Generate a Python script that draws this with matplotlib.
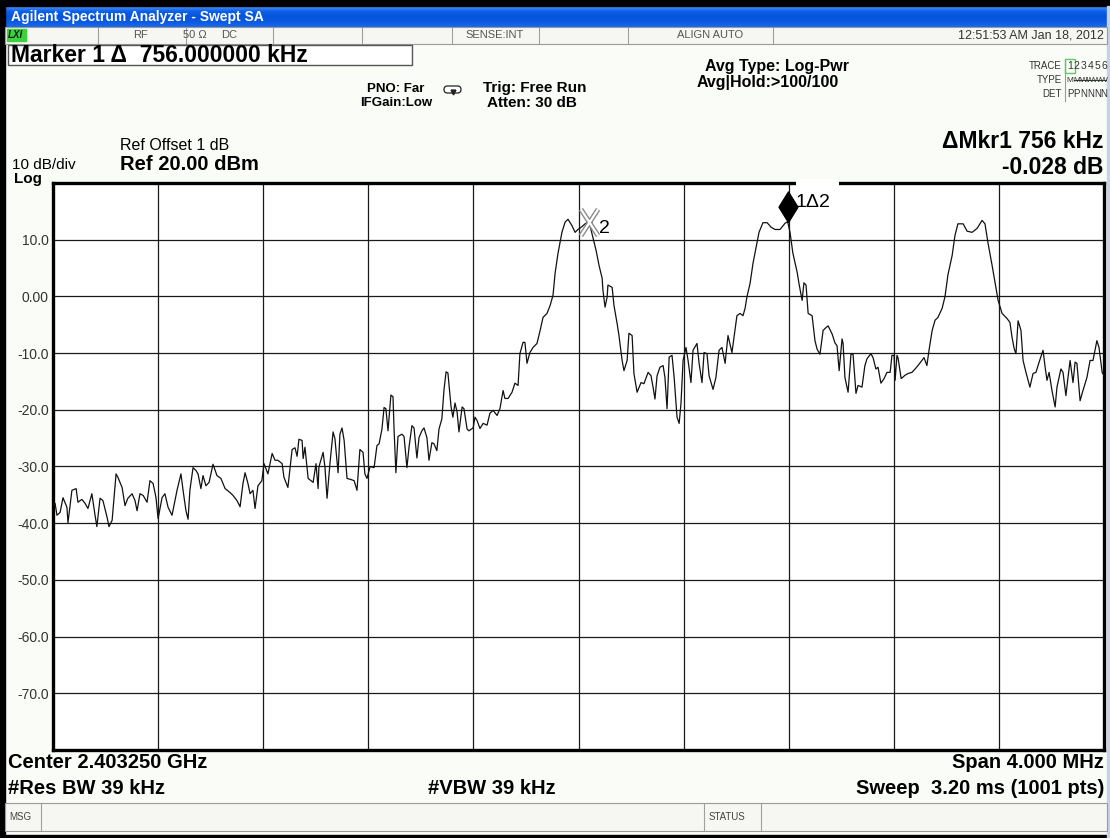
import numpy as np
import matplotlib.pyplot as plt
from matplotlib.path import Path
from matplotlib.patches import Rectangle, FancyBboxPatch
from matplotlib.colors import LinearSegmentedColormap

# sweep settings
center_ghz = 2.403250
span_mhz = 4.0
ref_level = 20.0
db_per_div = 10
y_labels = ['10.0', '0.00', '-10.0', '-20.0', '-30.0', '-40.0', '-50.0', '-60.0', '-70.0']

# trace 1: (offset from center in kHz, level in dBm)
trace = [
    (-2000, -37.0), (-1992, -36.5), (-1985, -38.6), (-1973, -38.1), (-1962, -35.5), (-1947, -37.2),
    (-1943, -39.9), (-1928, -34.2), (-1912, -33.9), (-1905, -36.3), (-1890, -35.8), (-1878, -36.5),
    (-1867, -37.4), (-1852, -34.8), (-1840, -38.6), (-1833, -40.6), (-1821, -35.6), (-1810, -36.0),
    (-1794, -39.0), (-1787, -40.6), (-1775, -39.5), (-1760, -31.3), (-1753, -31.9), (-1737, -33.7),
    (-1726, -36.9), (-1715, -35.6), (-1699, -34.8), (-1688, -36.0), (-1680, -37.8), (-1669, -34.8),
    (-1657, -35.1), (-1642, -36.3), (-1631, -32.5), (-1619, -33.0), (-1608, -35.5), (-1600, -39.2),
    (-1585, -35.5), (-1574, -34.8), (-1562, -37.2), (-1547, -38.6), (-1528, -34.2), (-1513, -31.3),
    (-1505, -34.2), (-1494, -37.8), (-1486, -39.3), (-1479, -34.2), (-1467, -30.2), (-1456, -30.7),
    (-1448, -31.3), (-1437, -33.9), (-1429, -31.6), (-1418, -33.4), (-1406, -32.8), (-1391, -29.6),
    (-1376, -31.6), (-1361, -32.1), (-1345, -33.9), (-1326, -34.6), (-1315, -35.1), (-1300, -36.0),
    (-1288, -37.1), (-1277, -33.0), (-1269, -31.1), (-1258, -33.0), (-1250, -34.8), (-1239, -34.2),
    (-1231, -37.4), (-1220, -33.4), (-1205, -32.5), (-1197, -29.5), (-1182, -31.3),
    (-1166, -27.7), (-1155, -28.9), (-1144, -28.9), (-1128, -29.5), (-1121, -31.9), (-1106, -33.7),
    (-1090, -27.0), (-1079, -26.7), (-1071, -28.2), (-1064, -25.2), (-1052, -25.4), (-1048, -28.6),
    (-1041, -26.6), (-1029, -32.1), (-1010, -32.8), (-999, -29.5), (-991, -33.9), (-988, -30.1),
    (-972, -27.5), (-965, -30.1), (-957, -35.6), (-946, -29.5), (-934, -23.9), (-927, -25.1),
    (-915, -31.1), (-908, -24.3), (-900, -23.2), (-892, -25.4), (-881, -32.1), (-866, -32.3),
    (-854, -32.5), (-843, -34.2), (-832, -27.0), (-820, -27.5), (-813, -31.3), (-805, -32.1),
    (-793, -30.0), (-778, -30.2), (-767, -26.3), (-759, -26.0), (-748, -23.4), (-740, -19.6),
    (-733, -19.8), (-725, -23.7), (-714, -17.4), (-706, -17.7), (-702, -23.4), (-695, -31.1),
    (-687, -24.7), (-672, -24.3), (-664, -24.7), (-653, -30.2), (-645, -26.6), (-634, -22.8),
    (-626, -23.2), (-615, -28.5), (-607, -24.9), (-596, -23.7), (-588, -23.2), (-577, -24.9),
    (-569, -28.9), (-558, -25.8), (-550, -26.0), (-539, -27.2), (-531, -23.4), (-520, -21.6),
    (-512, -16.5), (-504, -13.3), (-497, -13.5), (-485, -19.5), (-478, -21.3), (-470, -18.8),
    (-462, -20.4), (-455, -23.9), (-443, -19.5), (-436, -19.8), (-424, -23.4), (-417, -23.7),
    (-401, -23.2), (-394, -21.3), (-386, -21.9),
    (-375, -23.3), (-363, -22.4), (-348, -22.7), (-337, -20.6), (-325, -20.1), (-310, -21.0),
    (-299, -19.8), (-287, -16.6), (-280, -18.0), (-268, -18.0), (-253, -16.9), (-242, -15.3),
    (-230, -15.7), (-223, -10.1), (-211, -8.1), (-204, -8.1), (-196, -11.8), (-185, -9.9),
    (-173, -9.0), (-158, -8.3), (-146, -6.0), (-135, -3.7), (-120, -3.0), (-108, -1.6),
    (-97, 0.2), (-89, 4.1), (-78, 7.6), (-63, 11.3), (-51, 13.1), (-40, 13.6),
    (-25, 12.5), (-13, 11.3), (-2, 11.8), (13, 12.3), (25, 12.8), (40, 13.2),
    (55, 10.4), (67, 8.1), (78, 5.5), (90, 3.2), (93, 1.1), (101, -1.9),
    (109, -0.1), (112, 2.0), (128, 1.6), (135, -1.6), (147, -4.8), (154, -6.9),
    (166, -11.3), (173, -13.1), (185, -11.3), (192, -6.5), (204, -6.9), (211, -13.6),
    (223, -16.9), (238, -15.2), (249, -15.4), (265, -13.4), (276, -14.0), (284, -16.1),
    (291, -18.1), (299, -14.0), (310, -12.5), (322, -12.2), (329, -14.3), (337, -19.8),
    (345, -10.7), (356, -10.4), (364, -14.3), (375, -21.3), (383, -22.4), (390, -18.9),
    (398, -11.3), (409, -9.0), (417, -11.3), (428, -15.2), (436, -9.5), (451, -8.3),
    (459, -11.8), (470, -15.2), (478, -9.9), (489, -10.1), (497, -14.0), (512, -16.4),
    (523, -14.3), (535, -9.5), (546, -9.0), (558, -11.8), (569, -6.9), (584, -9.9),
    (592, -7.2), (603, -3.4), (615, -3.0), (626, -3.4), (634, -2.1), (641, -0.1),
    (653, 2.3), (664, 5.8), (679, 9.4), (687, 11.3), (702, 13.0), (718, 13.0),
    (733, 12.2), (748, 11.8), (767, 11.8), (786, 12.9), (796, 13.17), (805, 11.3),
    (816, 7.6), (832, 4.3), (839, 2.3), (851, -0.7), (858, 2.4), (866, 2.0),
    (874, -3.0), (889, -3.4), (900, -7.8), (908, -9.3), (919, -10.2), (931, -6.0),
    (942, -5.5), (950, -5.2), (965, -6.6), (976, -8.2), (984, -8.7), (992, -13.1),
    (1003, -7.5), (1007, -8.3), (1014, -14.3), (1026, -16.9), (1037, -10.2), (1045, -10.2),
    (1056, -17.1), (1064, -15.7), (1079, -16.0), (1090, -12.2), (1098, -11.0), (1113, -10.1),
    (1121, -10.8), (1132, -12.8), (1140, -12.5), (1151, -15.3), (1163, -14.5), (1174, -13.4),
    (1186, -13.4), (1193, -10.4), (1201, -10.4), (1205, -14.8), (1212, -10.4), (1216, -10.8),
    (1228, -14.5), (1243, -13.9), (1254, -13.6), (1269, -13.4), (1281, -12.8), (1292, -12.2),
    (1307, -11.3), (1315, -10.8), (1326, -12.2), (1334, -9.5), (1346, -6.0), (1357, -4.2),
    (1368, -3.7), (1384, -2.1), (1395, 0.0), (1406, 3.8), (1422, 7.2), (1433, 10.8),
    (1444, 12.8), (1464, 12.8), (1479, 11.5), (1498, 11.3), (1517, 12.0), (1536, 13.4),
    (1547, 12.8), (1559, 9.3), (1574, 5.5), (1585, 2.5), (1597, -0.7), (1612, -3.0),
    (1631, -3.9), (1642, -4.6), (1650, -7.2), (1658, -9.2), (1665, -10.1), (1673, -4.3),
    (1684, -6.0), (1692, -11.3), (1703, -13.4), (1718, -16.0), (1730, -13.6), (1741, -13.4),
    (1753, -11.6), (1768, -9.5), (1776, -12.5), (1783, -14.8), (1791, -13.4), (1802, -16.6),
    (1814, -19.5), (1821, -16.0), (1836, -12.8), (1844, -13.4), (1855, -17.5), (1863, -14.3),
    (1871, -11.3), (1882, -15.2), (1890, -11.6), (1897, -11.8), (1909, -18.4), (1920, -16.6),
    (1935, -14.3), (1947, -11.3), (1958, -11.3), (1973, -7.8), (1981, -9.0), (1993, -13.4),
    (2000, -14.0),
]
offset_khz, level_dbm = map(np.array, zip(*trace))

# markers: 2 is the reference, 1 is a delta marker
mkr2_khz = 40
mkr1_delta_khz = 756
mkr1_delta_db = -0.028

mkr2_level = np.interp(mkr2_khz, offset_khz, level_dbm)
mkr1_khz = mkr2_khz + mkr1_delta_khz
mkr1_level = mkr2_level + mkr1_delta_db

FONT = 'Liberation Sans'
W, H = 1110, 838

fig = plt.figure(figsize=(W / 100, H / 100), dpi=100)
fig.patch.set_facecolor('#fafcf8')

# screen overlay in pixel units
scr = fig.add_axes([0, 0, 1, 1], zorder=0)
scr.axis('off')


def txt(x, y, s, size=10, weight='normal', ha='left', color='black', **kw):
    scr.text(x, y, s, fontsize=size, fontweight=weight, ha=ha, va='center',
             color=color, family=FONT, **kw)


# window frame and title bar
bar = LinearSegmentedColormap.from_list('bar', ['#4a94f8', '#0d5fe8', '#0653dc', '#0a59e2', '#1a68ea'])
scr.imshow(np.linspace(0, 1, 40).reshape(-1, 1), cmap=bar, extent=[5, 1107, 27, 6], aspect='auto')
scr.add_patch(Rectangle((0, 0), W, 6, color='black'))
scr.add_patch(Rectangle((0, 0), 5, H, color='black'))
scr.add_patch(Rectangle((0, 835), W, 3, color='black'))
scr.add_patch(Rectangle((1107, 6), 3, H, color='#c4d3ea'))
txt(11, 17, 'Agilent Spectrum Analyzer - Swept SA', size=10, weight='bold', color='white')

# status row
scr.add_patch(Rectangle((5, 27), 1102, 17, facecolor='#f6f6f2', edgecolor='#9a9a9a', lw=0.8))
for xs in [98, 186, 273, 362, 452, 539, 628, 773]:
    scr.plot([xs, xs], [28, 43], color='#a0a0a0', lw=0.8)
scr.add_patch(Rectangle((7, 29), 19, 12, color='#3cd23c'))
txt(8, 35.5, 'LXI', size=7, weight='bold', style='italic', color='#102010')
txt(141, 35.5, 'RF', size=8, ha='center', color='#555555')
txt(195, 35.5, '50 Ω', size=8, ha='center', color='#555555')
txt(229, 35.5, 'DC', size=8, ha='center', color='#555555')
txt(495, 35.5, 'SENSE:INT', size=8, ha='center', color='#555555')
txt(710, 35.5, 'ALIGN AUTO', size=8, ha='center', color='#555555')
txt(1104, 35.5, '12:51:53 AM Jan 18, 2012', size=9, ha='right', color='#333333')

# marker readout box
scr.add_patch(Rectangle((8, 45), 404, 20, facecolor='white', edgecolor='#555555', lw=1))
txt(11, 55.5, 'Marker 1 Δ  756.000000 kHz', size=16.5, weight='bold')

txt(396, 89, 'PNO: Far', size=9.5, weight='bold', ha='center')
txt(396, 103, 'IFGain:Low', size=9.5, weight='bold', ha='center')
scr.add_patch(FancyBboxPatch((444, 86), 17, 7, boxstyle='round,pad=0,rounding_size=3.5',
                             facecolor='white', edgecolor='#222222', lw=0.9))
scr.plot([452.5], [92], marker='v', ms=3.5, color='#222222')
txt(483, 88, 'Trig: Free Run', size=11, weight='bold')
txt(487, 103, 'Atten: 30 dB', size=11, weight='bold')
txt(705, 67, 'Avg Type: Log-Pwr', size=11.5, weight='bold')
txt(697, 83, 'Avg|Hold:>100/100', size=11.5, weight='bold')

# trace status block
txt(1062, 66, 'TRACE', size=7, ha='right', color='#333333')
txt(1062, 80, 'TYPE', size=7, ha='right', color='#333333')
txt(1062, 94, 'DET', size=7, ha='right', color='#333333')
scr.plot([1064.5, 1064.5], [59, 101], color='#999999', lw=0.8)
scr.add_patch(Rectangle((1065, 59.5), 10, 14, facecolor='none', edgecolor='#5fd05f', lw=1))
for i, (t, m, d) in enumerate(zip('123456', 'MMWWWW', 'PPNNNN')):
    xc = 1070 + i * 6.8
    txt(xc, 66, t, size=7.5, ha='center', color='#333333')
    txt(xc, 80, m, size=6, ha='center', color='#333333')
    txt(xc, 94, d, size=7, ha='center', color='#333333')
scr.plot([1074, 1106], [80, 80], color='#333333', lw=0.7)

# reference readouts
txt(120, 146, 'Ref Offset 1 dB', size=11.5)
txt(120, 165, 'Ref 20.00 dBm', size=14.5, weight='bold')
txt(12, 165, '10 dB/div', size=11)
txt(14, 179, 'Log', size=11, weight='bold')
txt(1103, 142, 'ΔMkr1 756 kHz', size=16.5, weight='bold', ha='right')
txt(1103, 167, '-0.028 dB', size=16.5, weight='bold', ha='right')

# bottom annotation lines
txt(8, 762, 'Center 2.403250 GHz', size=14.5, weight='bold')
txt(1104, 762, 'Span 4.000 MHz', size=14.5, weight='bold', ha='right')
txt(8, 788, '#Res BW 39 kHz', size=14.5, weight='bold')
txt(428, 788, '#VBW 39 kHz', size=14.5, weight='bold')
txt(1104, 788, 'Sweep  3.20 ms (1001 pts)', size=14.5, weight='bold', ha='right')

scr.add_patch(Rectangle((5, 803), 1102, 28, facecolor='#f6f6f2', edgecolor='#9a9a9a', lw=0.8))
for xs in [41, 704, 761]:
    scr.plot([xs, xs], [804, 830], color='#a0a0a0', lw=0.8)
txt(9, 817, 'MSG', size=7, color='#444444')
txt(709, 817, 'STATUS', size=7, color='#444444')

scr.set_xlim(0, W)
scr.set_ylim(H, 0)

# graticule with the trace
x0, x1, y0, y1 = 53, 1104, 183, 750
ax = fig.add_axes([x0 / W, 1 - y1 / H, (x1 - x0) / W, (y1 - y0) / H], zorder=1)
ax.set_facecolor('white')
half = span_mhz * 1000 / 2
ax.set_xlim(-half, half)
ax.set_ylim(ref_level - 10 * db_per_div, ref_level)
ax.set_xticks(np.linspace(-half, half, 11))
ax.set_xticklabels([])
levels = np.arange(ref_level - 10 * db_per_div, ref_level + 1, db_per_div)
ax.set_yticks(levels)
ax.set_yticklabels([''] + y_labels[::-1] + [''], fontsize=10, color='#333333', family=FONT)
ax.tick_params(length=0, pad=3)
ax.grid(True, color='#1a1a1a', lw=0.9)
for s in ax.spines.values():
    s.set_linewidth(2.4)
    s.set_color('black')

ax.plot(offset_khz, level_dbm, color='#111111', lw=0.9, zorder=3)

# marker 2: hollow cross on the reference peak
xmark = Path([(-0.65, -1), (0.65, 1), (-0.65, 1), (0.65, -1)],
             [Path.MOVETO, Path.LINETO, Path.MOVETO, Path.LINETO])
ax.plot([mkr2_khz], [mkr2_level], marker=xmark, ms=19, mec='#8a8a8a', mew=3.6, ls='none', zorder=4)
ax.plot([mkr2_khz], [mkr2_level], marker=xmark, ms=19, mec='white', mew=1.6, ls='none', zorder=5)
ax.annotate('2', (mkr2_khz, mkr2_level), xytext=(7, -5), textcoords='offset points',
            fontsize=14, family=FONT, va='center', zorder=6)

# marker 1: diamond whose tip sits on the delta point, label cuts the top border
diamond = Path([(0, 0), (-0.62, 1), (0, 2), (0.62, 1), (0, 0)],
               [Path.MOVETO, Path.LINETO, Path.LINETO, Path.LINETO, Path.CLOSEPOLY])
ax.add_patch(Rectangle((mkr1_khz + 30, ref_level - 0.7), 165, 1.4, facecolor='white',
                       edgecolor='none', clip_on=False, zorder=5))
ax.plot([mkr1_khz], [mkr1_level], marker=diamond, ms=44, color='black', ls='none',
        clip_on=False, zorder=6)
ax.annotate('1Δ2', (mkr1_khz, mkr1_level), xytext=(6, 14), textcoords='offset points',
            fontsize=14, family=FONT, va='center', annotation_clip=False, zorder=6)

fig.savefig('out.png', dpi=100, facecolor=fig.get_facecolor())
